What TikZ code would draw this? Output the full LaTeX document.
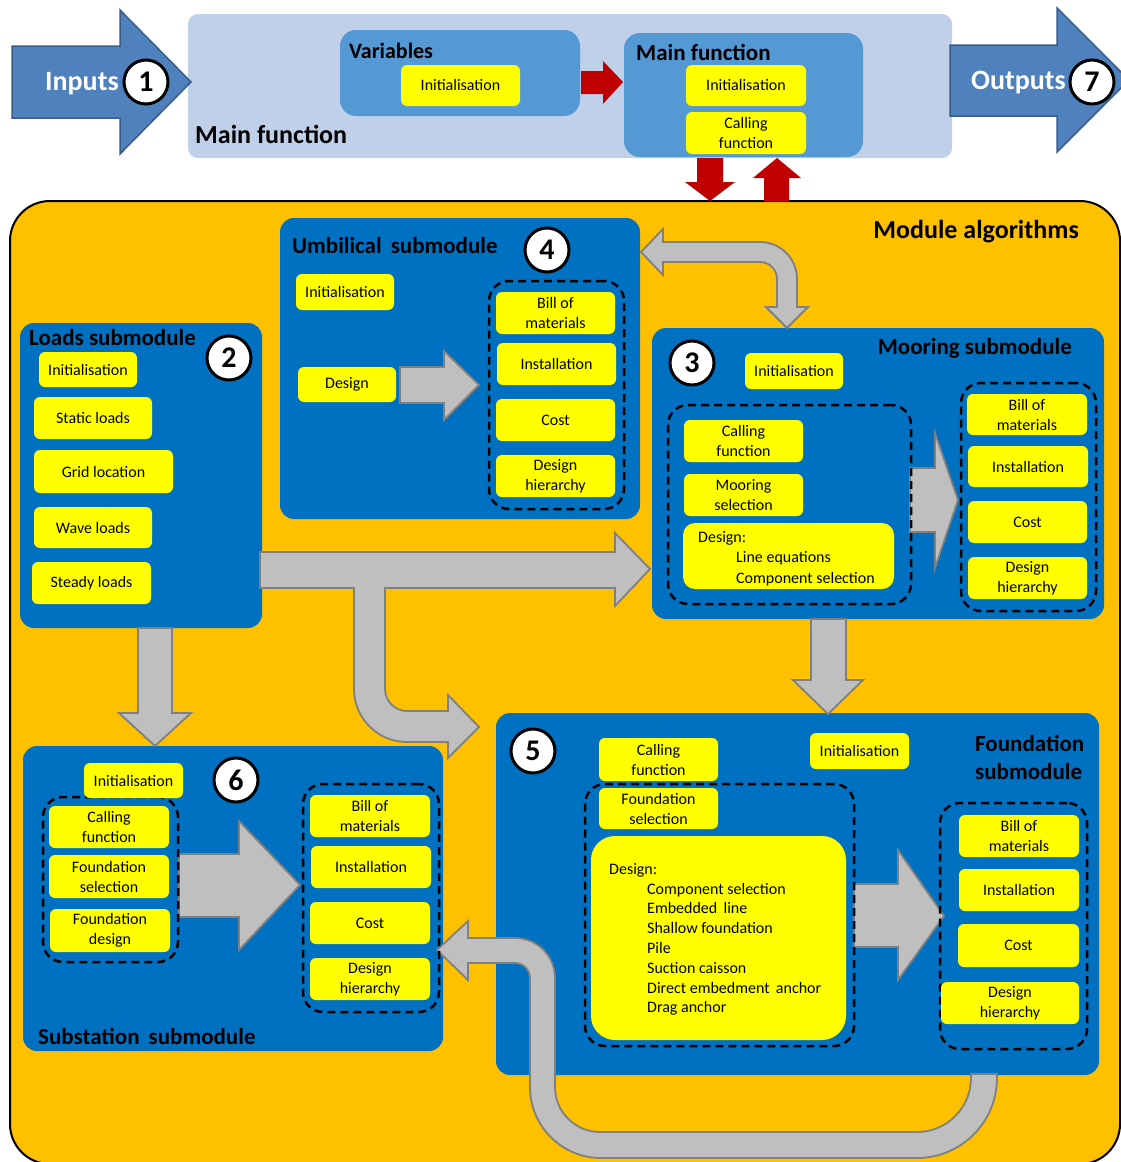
\documentclass[tikz,border=0pt]{standalone}
\usepackage{fontspec}
\setmainfont{Carlito}
\definecolor{orangeM}{RGB}{255,192,0}
\definecolor{blueM}{RGB}{0,112,192}
\definecolor{yellowB}{RGB}{255,255,0}
\definecolor{lightB}{RGB}{191,208,232}
\definecolor{midB}{RGB}{84,152,212}
\definecolor{arrB}{RGB}{79,129,189}
\definecolor{arrBd}{RGB}{56,93,138}
\definecolor{redA}{RGB}{192,0,0}
\definecolor{greyA}{RGB}{191,191,191}
\definecolor{greyB}{RGB}{128,128,128}
\newcommand\bx[6]{\node[#1,minimum width={#4-#2},minimum height={#5-#3}] (#6) at ({(#2+#4)/2},{(#3+#5)/2}) {};}
\newcommand\ybx[6]{\node[ybox,minimum width={#4-#2},minimum height={#5-#3}] (#1) at ({(#2+#4)/2},{(#3+#5)/2}) {#6};}
\begin{document}
\begin{tikzpicture}[x=1pt,y=-1pt,
  ybox/.style={fill=yellowB,rounded corners=6pt,inner sep=0pt,align=center,font=\fontsize{16}{20}\selectfont},
  mbox/.style={fill=blueM,rounded corners=14pt,inner sep=0pt},
  vbox/.style={fill=midB,rounded corners=16pt,inner sep=0pt},
  lbbox/.style={fill=lightB,rounded corners=10pt,inner sep=0pt},
  modbox/.style={fill=orangeM,draw=black,line width=2pt,rounded corners=40pt,inner sep=0pt},
  dgroup/.style={draw=black,line width=2.5pt,dash pattern=on 8pt off 5pt,rounded corners=20pt,inner sep=0pt},
  ybig/.style={fill=yellowB,rounded corners=12pt,inner sep=0pt},
  garrow/.style={fill=greyA,draw=greyB,line width=1.8pt,line join=miter},
  barrow/.style={fill=arrB,draw=arrBd,line width=1.5pt,line join=miter},
  rarrow/.style={fill=redA},
  ttl/.style={inner sep=0pt,font=\fontsize{23}{28}\selectfont\bfseries},
  ltxt/.style={inner sep=0pt,align=left,anchor=north west},
  numc/.style={circle,draw=black,fill=white,line width=3pt,minimum size=44pt,inner sep=0pt,font=\fontsize{30}{30}\selectfont\bfseries}]
\useasboundingbox (0,0) rectangle (1121,1162);
\fill[white] (0,0) rectangle (1121,1162);

% ---------- top: main function ----------
\bx{lbbox}{188}{14}{952}{158}{mainbox}
\bx{vbox}{340}{30}{580}{116}{varbox}
\bx{vbox}{624}{33}{863}{157}{mfbox}
\node[ttl,font=\fontsize{26}{30}\selectfont\bfseries,anchor=base west] (mainlbl) at (195,143) {Main function};
\node[ttl,font=\fontsize{22}{26}\selectfont\bfseries,anchor=base west] (varlbl) at (349,58) {Variables};
\node[ttl,anchor=base west] (mflbl) at (636,60) {Main function};
\ybx{vinit}{401}{65}{520}{106}{Initialisation}
\ybx{minit}{686}{65}{806}{106}{Initialisation}
\ybx{mcall}{686}{112}{806}{154}{Calling\\function}
\fill[rarrow] (581,71) -- (603,71) -- (603,61) -- (623,82) -- (603,104) -- (603,94) -- (581,94) -- cycle;

% inputs / outputs
\draw[barrow] (12,46) -- (120,46) -- (120,10) -- (191,82) -- (120,154) -- (120,118) -- (12,118) -- cycle;
\node[inner sep=0pt,anchor=base west,text=white,font=\fontsize{28}{30}\selectfont\bfseries] (inlbl) at (45,90) {Inputs};
\node[numc] (c1) at (146,82) {1};
\draw[barrow] (950,45) -- (1057,45) -- (1057,8) -- (1129,80) -- (1057,152) -- (1057,116) -- (950,116) -- cycle;
\node[inner sep=0pt,anchor=base west,text=white,font=\fontsize{28}{30}\selectfont\bfseries] (outlbl) at (971,89) {Outputs};
\node[numc] (c7) at (1092,82) {7};

% ---------- module algorithms ----------
\bx{modbox}{10}{201}{1120}{1164}{modalg}
\fill[rarrow] (697,158) -- (723,158) -- (723,182) -- (735,182) -- (710,201) -- (685,182) -- (697,182) -- cycle;
\fill[rarrow] (764,201) -- (789,201) -- (789,178) -- (801,178) -- (777,158) -- (753,178) -- (764,178) -- cycle;
\node[ttl,font=\fontsize{26}{30}\selectfont\bfseries,anchor=base east] (modlbl) at (1079,238) {Module algorithms};

% submodule boxes
\bx{mbox}{280}{218}{640}{519}{umb}
\bx{mbox}{20}{323}{262}{628}{loads}
\bx{mbox}{652}{328}{1104}{619}{moor}
\bx{mbox}{496}{713}{1099}{1075}{found}
\bx{mbox}{23}{746}{443}{1051}{subst}

% ---------- grey arrows ----------
% umbilical <-> mooring
\draw[garrow] (641,252) -- (663,229) -- (663,242) -- (760,242) arc[start angle=-90,end angle=0,radius=37] -- (797,307) -- (808,307) -- (787,328) -- (766,307) -- (777,307) -- (777,279) arc[start angle=0,end angle=-90,radius=17] -- (663,262) -- (663,275) -- cycle;
% loads -> mooring, with branch to foundation
\draw[garrow] (260,552) -- (615,552) -- (615,533) -- (650,569) -- (615,606) -- (615,588) -- (385,588) -- (385,689) arc[start angle=180,end angle=90,radius=22] -- (448,711) -- (448,695) -- (479,727) -- (448,758) -- (448,742) -- (407,742) arc[start angle=90,end angle=180,radius=53] -- (354,588) -- (260,588) -- cycle;
% loads -> substation
\draw[garrow] (138,628) -- (172,628) -- (172,713) -- (191,713) -- (155,746) -- (119,713) -- (138,713) -- cycle;
% mooring -> foundation
\draw[garrow] (811,619) -- (846,619) -- (846,680) -- (863,680) -- (828,714) -- (793,680) -- (811,680) -- cycle;
% foundation -> substation loop
\draw[garrow] (971,1074) -- (971,1078) arc[start angle=0,end angle=90,radius=54] -- (600,1132) arc[start angle=90,end angle=180,radius=45] -- (555,978) arc[start angle=0,end angle=-90,radius=40] -- (468,938) -- (468,921) -- (437,950) -- (468,980) -- (468,963) -- (515,963) arc[start angle=-90,end angle=0,radius=15] -- (530,1087) arc[start angle=180,end angle=90,radius=71] -- (917,1158) arc[start angle=90,end angle=0,radius=80] -- (997,1074) -- cycle;
% internal arrows
\draw[garrow] (400,367) -- (444,367) -- (444,351) -- (479,385) -- (444,420) -- (444,403) -- (400,403) -- cycle;
\draw[garrow] (910,468) -- (935,468) -- (935,433) -- (958,500) -- (935,568) -- (935,532) -- (910,532) -- cycle;
\draw[garrow] (179,854) -- (239,854) -- (239,821) -- (300,885) -- (239,950) -- (239,917) -- (179,917) -- cycle;
\draw[garrow] (854,884) -- (898,884) -- (898,850) -- (944,916) -- (898,980) -- (898,947) -- (854,947) -- cycle;

% ---------- dashed groups ----------
\bx{dgroup}{489}{281}{624}{509}{umbgrp}
\bx{dgroup}{668}{405}{911}{604}{moorgrpL}
\bx{dgroup}{961}{383}{1096}{611}{moorgrpR}
\bx{dgroup}{585}{784}{854}{1046}{foundgrpL}
\bx{dgroup}{940}{803}{1087}{1049}{foundgrpR}
\bx{dgroup}{43}{797}{178}{962}{substgrpL}
\bx{dgroup}{303}{784}{439}{1012}{substgrpR}

% ---------- umbilical ----------
\node[ttl,anchor=base west] (umblbl) at (292,253) {Umbilical\, submodule};
\ybx{uinit}{296}{274}{394}{310}{Initialisation}
\ybx{udes}{298}{367}{396}{402}{Design}
\ybx{ubom}{496}{292}{615}{334}{Bill of\\materials}
\ybx{uinst}{497}{343}{616}{385}{Installation}
\ybx{ucost}{496}{399}{615}{441}{Cost}
\ybx{udh}{496}{455}{615}{497}{Design\\hierarchy}
\node[numc] (c4) at (547,250) {4};

% ---------- loads ----------
\node[ttl,anchor=base west] (loadslbl) at (29,345) {Loads submodule};
\ybx{linit}{39}{352}{137}{387}{Initialisation}
\ybx{lstat}{34}{397}{152}{439}{Static loads}
\ybx{lgrid}{34}{450}{173}{493}{Grid location}
\ybx{lwave}{34}{507}{152}{548}{Wave loads}
\ybx{lsteady}{32}{562}{151}{604}{Steady loads}
\node[numc] (c2) at (229,358) {2};

% ---------- mooring ----------
\node[ttl,anchor=base east] (moorlbl) at (1072,354) {Mooring submodule};
\ybx{minit2}{745}{353}{843}{389}{Initialisation}
\ybx{mcall2}{684}{420}{803}{462}{Calling\\function}
\ybx{msel}{684}{474}{803}{516}{Mooring\\selection}
\bx{ybig}{683}{523}{894}{589}{mdes}
\node[ltxt,font=\fontsize{16}{20.5}\selectfont] (mdestxt) at (698,531) {Design:\\\hspace*{38pt}Line equations\\\hspace*{38pt}Component selection};
\ybx{mbom}{967}{394}{1087}{435}{Bill of\\materials}
\ybx{minst}{968}{446}{1088}{487}{Installation}
\ybx{mcost}{968}{501}{1087}{543}{Cost}
\ybx{mdh}{968}{557}{1087}{599}{Design\\hierarchy}
\node[numc] (c3) at (692,363) {3};

% ---------- foundation ----------
\node[ttl,anchor=base west] (foundlbl1) at (975,751) {Foundation};
\node[ttl,anchor=base west] (foundlbl2) at (975,779) {submodule};
\ybx{fcall}{599}{738}{718}{781}{Calling\\function}
\ybx{finit}{810}{733}{909}{769}{Initialisation}
\ybx{fsel}{599}{788}{718}{829}{Foundation\\selection}
\bx{ybig,rounded corners=24pt}{591}{836}{846}{1040}{fdes}
\node[ltxt,font=\fontsize{16}{19.8}\selectfont] (fdestxt) at (609,863) {Design:\\\hspace*{38pt}Component selection\\\hspace*{38pt}Embedded\, line\\\hspace*{38pt}Shallow foundation\\\hspace*{38pt}Pile\\\hspace*{38pt}Suction caisson\\\hspace*{38pt}Direct embedment\, anchor\\\hspace*{38pt}Drag anchor};
\ybx{fbom}{959}{815}{1079}{857}{Bill of\\materials}
\ybx{finst}{959}{869}{1079}{911}{Installation}
\ybx{fcost}{958}{924}{1079}{967}{Cost}
\ybx{fdh}{941}{982}{1079}{1024}{Design\\hierarchy}
\node[numc] (c5) at (533,751) {5};

% ---------- substation ----------
\node[ttl,anchor=base west] (substlbl) at (38,1044) {Substation\, submodule};
\ybx{sinit}{84}{763}{183}{798}{Initialisation}
\ybx{scall}{49}{806}{169}{848}{Calling\\function}
\ybx{ssel}{49}{855}{169}{898}{Foundation\\selection}
\ybx{sdes}{50}{909}{170}{952}{Foundation\\design}
\ybx{sbom}{310}{795}{430}{837}{Bill of\\materials}
\ybx{sinst}{311}{846}{431}{888}{Installation}
\ybx{scost}{310}{902}{430}{944}{Cost}
\ybx{sdh}{310}{958}{430}{1000}{Design\\hierarchy}
\node[numc] (c6) at (236,780) {6};
\end{tikzpicture}
\end{document}
